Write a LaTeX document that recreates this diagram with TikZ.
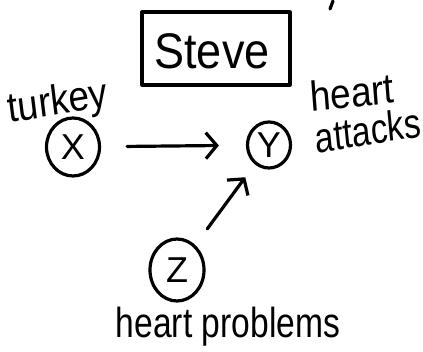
\documentclass[tikz,border=0pt]{standalone}
\usepackage{fontspec}
\setmainfont{Liberation Sans}
\usetikzlibrary{arrows.meta,shapes.geometric}
\begin{document}
\begin{tikzpicture}[x=1pt,y=-1pt,
  ink/.style={line width=3.2pt, line cap=round, line join=round},
  var/.style={ellipse, draw, ink, inner sep=0pt, font=\fontsize{36}{36}\selectfont},
  hand/.style={inner sep=0pt, xscale=0.8, font=\fontsize{42}{42}\selectfont},
  arr/.style={ink, -{Straight Barb[length=11pt,width=26pt,line width=3.2pt]}}]
\useasboundingbox (0,0) rectangle (423,352);
\fill[white] (0,0) rectangle (423,352);

% title box
\draw[ink] (142,12) rectangle (290,85);
\node[inner sep=0pt, xscale=0.9, font=\fontsize{50}{50}\selectfont] (steve) at (212,51) {Steve};

% variables
\node[var, minimum width=53pt, minimum height=58pt] (x) at (73,147) {X};
\node[var, minimum width=43pt, minimum height=46pt] (y) at (269,145) {Y};
\node[var, minimum width=54pt, minimum height=62pt] (z) at (177,270) {Z};

% labels
\node[hand, xscale=1.1, rotate=8] (lx) at (58,104) {turkey};
\node[hand, xscale=1.1, rotate=5] (ly1) at (352,92) {heart};
\node[hand, rotate=7] (ly2) at (368,130) {attacks};
\node[hand] (lz) at (228,327) {heart problems};

% causal arrows
\draw[arr, shorten <=26pt, shorten >=27pt] (x) -- (y);
\draw[arr, shorten <=20pt, shorten >=16pt] (z) -- (y);

% stray pen stroke at the top edge
\coordinate (s1) at (333,1);
\coordinate (s2) at (330,9);
\draw[ink] (s1) -- (s2);
\end{tikzpicture}
\end{document}
